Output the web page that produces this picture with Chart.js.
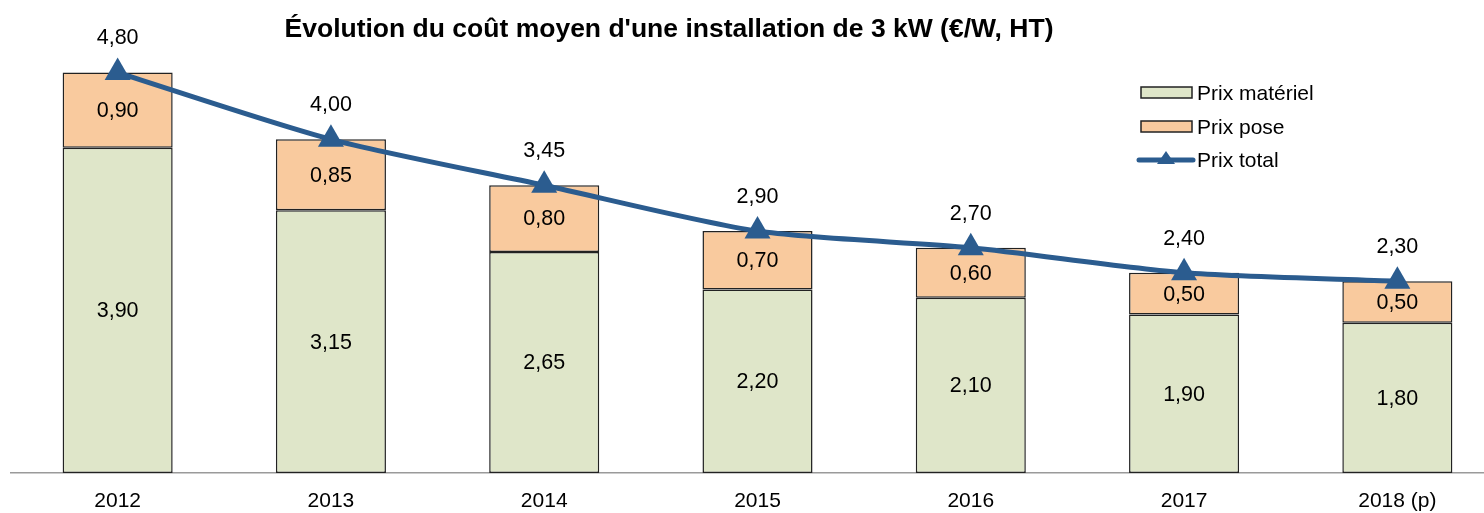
<!DOCTYPE html>
<html><head><meta charset="utf-8">
<script src="https://cdn.jsdelivr.net/npm/chart.js@4/dist/chart.umd.min.js"></script>
<style>html,body{margin:0;padding:0;overflow:hidden;background:#fff}canvas{display:block}</style>
</head><body>
<canvas id="c" width="1510" height="513"></canvas>
<script>
const categories = ['2012','2013','2014','2015','2016','2017','2018 (p)'];
const prixMateriel = [3.90,3.15,2.65,2.20,2.10,1.90,1.80];
const prixPose = [0.90,0.85,0.80,0.70,0.60,0.50,0.50];
const prixTotal = [4.80,4.00,3.45,2.90,2.70,2.40,2.30];
const seriesNames = ['Prix matériel','Prix pose','Prix total'];
const titleText = "Évolution du coût moyen d'une installation de 3 kW (€/W, HT)";

const GREEN='#dfe6c9', PEACH='#f9ca9e', BLUE='#2b5c8f', FONT='"Liberation Sans", Arial, sans-serif';
const fmt = v => v.toFixed(2).replace('.',',');

const extras = {
  id:'extras',
  afterDatasetsDraw(chart){
    const ctx = chart.ctx;
    ctx.save();
    ctx.fillStyle='#000';
    ctx.font='21.5px '+FONT;
    ctx.textAlign='center'; ctx.textBaseline='middle';
    [0,1].forEach(di=>{
      chart.getDatasetMeta(di).data.forEach((el,i)=>{
        const v = chart.data.datasets[di].data[i];
        ctx.fillText(fmt(v), el.x, (el.y+el.base)/2+1);
      });
    });
    chart.getDatasetMeta(2).data.forEach((el,i)=>{
      ctx.fillText(fmt(prixTotal[i]), el.x, el.y-34);
    });
    // title
    ctx.font='bold 26.5px '+FONT;
    ctx.fillText(titleText, 669, 30);
    // legend
    ctx.font='21px '+FONT;
    ctx.textAlign='left';
    ctx.lineWidth=1.5; ctx.strokeStyle='#222';
    ctx.fillStyle=GREEN; ctx.fillRect(1141,87,51,11); ctx.strokeRect(1141,87,51,11);
    ctx.fillStyle=PEACH; ctx.fillRect(1141,121,51,11); ctx.strokeRect(1141,121,51,11);
    ctx.strokeStyle=BLUE; ctx.lineWidth=5; ctx.lineCap='round';
    ctx.beginPath(); ctx.moveTo(1139,160); ctx.lineTo(1193,160); ctx.stroke();
    ctx.fillStyle=BLUE; ctx.beginPath(); ctx.moveTo(1166,151); ctx.lineTo(1175,164); ctx.lineTo(1157,164); ctx.closePath(); ctx.fill();
    ctx.fillStyle='#000';
    ctx.fillText(seriesNames[0],1197,94);
    ctx.fillText(seriesNames[1],1197,128);
    ctx.fillText(seriesNames[2],1197,161);
    ctx.restore();
  }
};

new Chart(document.getElementById('c'),{
  data:{
    labels:categories,
    datasets:[
      {type:'bar',label:seriesNames[0],data:prixMateriel,backgroundColor:GREEN,borderColor:'#222',borderWidth:1.5,stack:'s',order:1,barPercentage:0.516,categoryPercentage:1,borderSkipped:false},
      {type:'bar',label:seriesNames[1],data:prixPose,backgroundColor:PEACH,borderColor:'#222',borderWidth:1.5,stack:'s',order:1,barPercentage:0.516,categoryPercentage:1,borderSkipped:false},
      {type:'line',label:seriesNames[2],data:prixTotal,borderColor:BLUE,backgroundColor:BLUE,borderWidth:5,pointStyle:'triangle',pointRadius:15,pointBorderWidth:0,pointBackgroundColor:BLUE,tension:0.25,stack:'t',order:0,yAxisID:'y',clip:false}
    ]
  },
  options:{
    responsive:false, devicePixelRatio:1, animation:false,
    layout:{autoPadding:false,padding:{left:11,right:6,top:0,bottom:0}},
    plugins:{legend:{display:false},tooltip:{enabled:false},title:{display:false}},
    scales:{
      x:{stacked:true,offset:true,grid:{display:false,drawTicks:false},border:{display:true,color:'#9a9a9a',width:1.5},
         ticks:{color:'#000',font:{family:FONT,size:21},padding:16,maxRotation:0,autoSkip:false},
         afterFit(s){s.height=40;}},
      y:{stacked:true,display:false,min:0,max:5.67}
    }
  },
  plugins:[extras]
});
</script>
</body></html>
